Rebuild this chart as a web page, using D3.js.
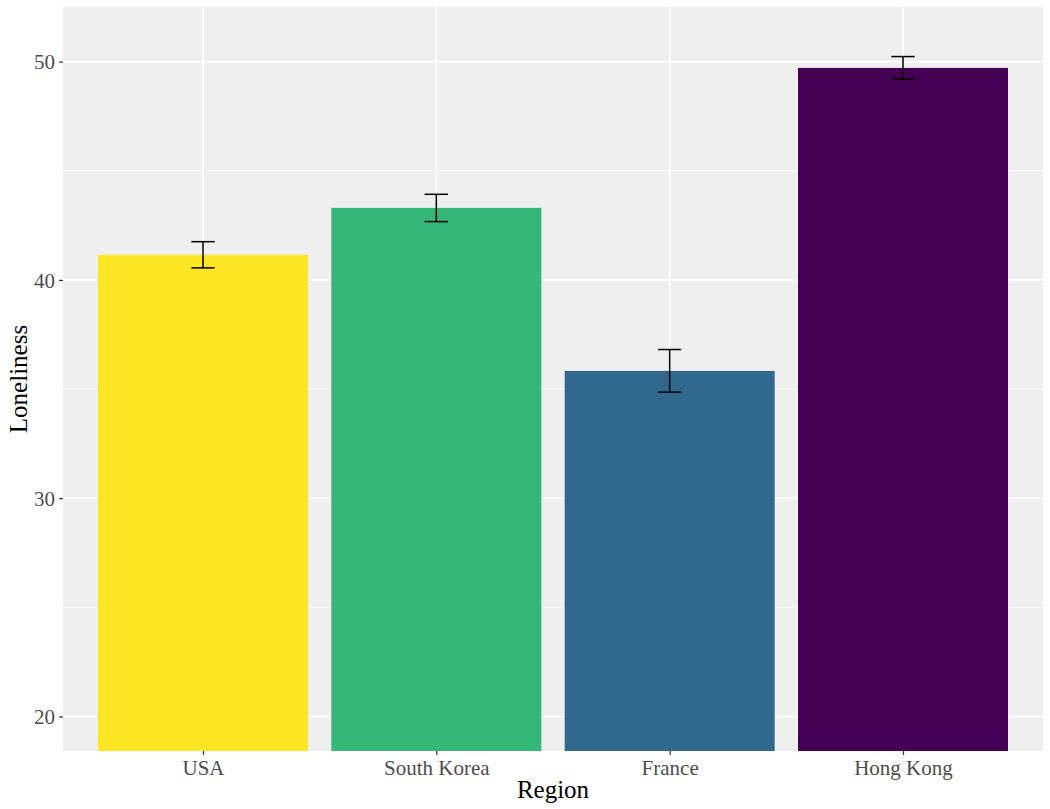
<!DOCTYPE html>
<html>
<head>
<meta charset="utf-8">
<script src="https://cdn.jsdelivr.net/npm/d3@7"></script>
<style>
  body { margin: 0; background: #fff; }
  text { font-family: "Liberation Serif", "Times New Roman", serif; }
</style>
</head>
<body>
<div id="chart"></div>
<script>
const regions = ["USA", "South Korea", "France", "Hong Kong"];
const loneliness = [41.15, 43.3, 35.83, 49.71];
const errLow = [40.55, 42.67, 34.86, 49.2];
const errHigh = [41.75, 43.92, 36.81, 50.23];
const barColors = ["#FDE725", "#35B779", "#31688E", "#440154"];
const majorTicks = [20, 30, 40, 50];
const minorTicks = [25, 35, 45];

const width = 1050;
const height = 809;
const margin = { top: 7, right: 7, bottom: 58, left: 63 };
const innerW = width - margin.left - margin.right;
const innerH = height - margin.top - margin.bottom;

const svg = d3
  .select("#chart")
  .append("svg")
  .attr("width", width)
  .attr("height", height);

const g = svg.append("g").attr("transform", `translate(${margin.left},${margin.top})`);

// discrete x like ggplot: 0.6 expansion on each side
const unit = innerW / (regions.length - 1 + 1.2);
const x = d3
  .scalePoint()
  .domain(regions)
  .range([0.6 * unit, innerW - 0.6 * unit]);

const y = d3.scaleLinear().domain([18.42, 52.5]).range([innerH, 0]);

g.append("rect")
  .attr("width", innerW)
  .attr("height", innerH)
  .attr("fill", "#EFEFEF");

g.append("defs")
  .append("clipPath")
  .attr("id", "clip")
  .append("rect")
  .attr("width", innerW)
  .attr("height", innerH);

g.selectAll(".minor")
  .data(minorTicks)
  .enter()
  .append("line")
  .attr("x1", 0)
  .attr("x2", innerW)
  .attr("y1", (d) => y(d))
  .attr("y2", (d) => y(d))
  .attr("stroke", "#fff")
  .attr("stroke-width", 0.8);

g.selectAll(".majorY")
  .data(majorTicks)
  .enter()
  .append("line")
  .attr("x1", 0)
  .attr("x2", innerW)
  .attr("y1", (d) => y(d))
  .attr("y2", (d) => y(d))
  .attr("stroke", "#fff")
  .attr("stroke-width", 1.6);

g.selectAll(".majorX")
  .data(regions)
  .enter()
  .append("line")
  .attr("x1", (d) => x(d))
  .attr("x2", (d) => x(d))
  .attr("y1", 0)
  .attr("y2", innerH)
  .attr("stroke", "#fff")
  .attr("stroke-width", 1.6);

const barW = 0.9 * unit;
g.append("g")
  .attr("clip-path", "url(#clip)")
  .selectAll("rect")
  .data(regions)
  .enter()
  .append("rect")
  .attr("x", (d) => x(d) - barW / 2)
  .attr("width", barW)
  .attr("y", (d, i) => y(loneliness[i]))
  .attr("height", (d, i) => innerH - y(loneliness[i]) + 2)
  .attr("fill", (d, i) => barColors[i]);

// error bars
const capW = 0.1 * unit;
const eb = g.selectAll(".eb").data(regions).enter().append("g");
eb.append("line")
  .attr("x1", (d) => x(d))
  .attr("x2", (d) => x(d))
  .attr("y1", (d, i) => y(errLow[i]))
  .attr("y2", (d, i) => y(errHigh[i]))
  .attr("stroke", "#000")
  .attr("stroke-width", 1.5);
eb.append("line")
  .attr("x1", (d) => x(d) - capW / 2)
  .attr("x2", (d) => x(d) + capW / 2)
  .attr("y1", (d, i) => y(errHigh[i]))
  .attr("y2", (d, i) => y(errHigh[i]))
  .attr("stroke", "#000")
  .attr("stroke-width", 1.5);
eb.append("line")
  .attr("x1", (d) => x(d) - capW / 2)
  .attr("x2", (d) => x(d) + capW / 2)
  .attr("y1", (d, i) => y(errLow[i]))
  .attr("y2", (d, i) => y(errLow[i]))
  .attr("stroke", "#000")
  .attr("stroke-width", 1.5);

// axes
const yAxis = g
  .append("g")
  .call(d3.axisLeft(y).tickValues(majorTicks).tickSize(4).tickPadding(4));
const xAxis = g
  .append("g")
  .attr("transform", `translate(0,${innerH})`)
  .call(d3.axisBottom(x).tickSize(4).tickPadding(5));

[yAxis, xAxis].forEach((a) => {
  a.select(".domain").remove();
  a.selectAll(".tick line").attr("stroke", "#333").attr("stroke-width", 1.2);
  a.selectAll(".tick text")
    .attr("fill", "#4D4D4D")
    .style("font-size", "21px")
    .style("font-family", '"Liberation Serif", serif');
});
yAxis.selectAll(".tick text").attr("dy", "0.35em");

svg.append("text")
  .attr("x", margin.left + innerW / 2)
  .attr("y", 798)
  .attr("text-anchor", "middle")
  .style("font-size", "25px")
  .text("Region");

svg.append("text")
  .attr("transform", `translate(27,${margin.top + innerH / 2}) rotate(-90)`)
  .attr("text-anchor", "middle")
  .style("font-size", "25px")
  .text("Loneliness");
</script>
</body>
</html>
